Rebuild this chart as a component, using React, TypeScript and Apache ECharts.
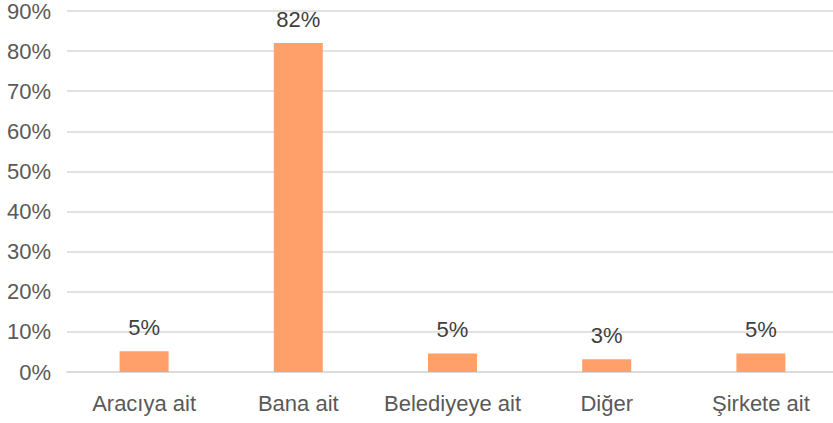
import React, { useEffect, useRef } from "react";
import * as echarts from "echarts";

const categories = ["Aracıya ait", "Bana ait", "Belediyeye ait", "Diğer", "Şirkete ait"];
const values = [5.2, 82, 4.6, 3.2, 4.6];
const yMin = 0;
const yMax = 90;
const yInterval = 10;

export default function App() {
  const ref = useRef<HTMLDivElement>(null);
  useEffect(() => {
    if (!ref.current) return;
    const chart = echarts.init(ref.current, null, { renderer: "svg" });
    const font = "'Liberation Sans', Arial, sans-serif";
    chart.setOption({
      animation: false,
      grid: { left: 67, right: 0, top: 11, bottom: 51, containLabel: false },
      xAxis: {
        type: "category",
        data: categories,
        axisTick: { show: false },
        axisLine: { show: true, lineStyle: { color: "#d9d9d9", width: 1.5 } },
        axisLabel: { color: "#595959", fontSize: 22, fontFamily: font, margin: 20, interval: 0 },
      },
      yAxis: {
        type: "value",
        min: yMin,
        max: yMax,
        interval: yInterval,
        axisLine: { show: false },
        axisTick: { show: false },
        splitLine: { lineStyle: { color: "#d9d9d9", width: 1.5 } },
        axisLabel: { color: "#595959", fontSize: 22, fontFamily: font, margin: 16, formatter: "{value}%" },
      },
      series: [
        {
          type: "bar",
          data: values,
          barWidth: 49,
          itemStyle: { color: "#FFA06A" },
          label: {
            show: true,
            position: "top",
            distance: 13,
            color: "#404040",
            fontSize: 22,
            fontFamily: font,
            formatter: (p: any) => Math.round(p.value) + "%",
          },
        },
      ],
    });
    return () => chart.dispose();
  }, []);
  return (
    <div
      style={{ position: "fixed", left: 0, top: 0, width: 833, height: 423, overflow: "hidden", background: "#fff" }}
    >
      <div ref={ref} style={{ width: 838, height: 423 }} />
    </div>
  );
}
